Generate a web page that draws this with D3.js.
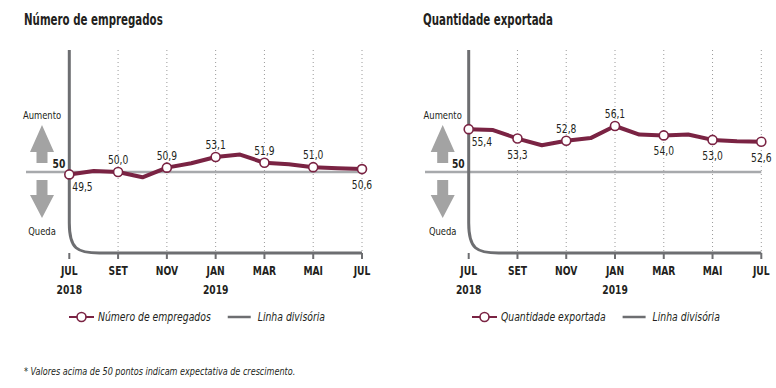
<!DOCTYPE html>
<html>
<head>
<meta charset="utf-8">
<script src="https://cdn.jsdelivr.net/npm/d3@7"></script>
<style>
  body { margin: 0; background: #fff; }
  svg { display: block; font-family: "DejaVu Sans Condensed", "DejaVu Sans", sans-serif; }
</style>
</head>
<body>
<svg id="chart" width="776" height="388"></svg>
<script>
// meses (jul/2018 - jul/2019)
const months = ["JUL", "AGO", "SET", "OUT", "NOV", "DEZ", "JAN", "FEV", "MAR", "ABR", "MAI", "JUN", "JUL"];
const tickLabels = ["JUL", "SET", "NOV", "JAN", "MAR", "MAI", "JUL"];
const yearLabels = { 0: "2018", 6: "2019" };

// dados
const empregados = [49.5, 50.2, 50.0, 48.9, 50.9, 51.8, 53.1, 53.6, 51.9, 51.6, 51.0, 50.8, 50.6];
const exportada = [55.4, 55.2, 53.3, 52.3, 52.8, 53.4, 56.1, 54.2, 54.0, 54.2, 53.0, 52.7, 52.6];
// quais pontos recebem rótulo e onde
const labelsEmpregados = { 0: "br", 2: "a", 4: "a", 6: "a", 8: "a", 10: "a", 12: "b" };
const labelsExportada = { 0: "br", 2: "b", 4: "a", 6: "a", 8: "b", 10: "b", 12: "b" };

const lineColor = "#7a2343";
const axisColor = "#6d6e71";
const divColor = "#a7a9ac";
const arrowColor = "#a3a3a3";
const ink = "#231f20";

const svg = d3.select("#chart");
const fmt = (v) => v.toFixed(1).replace(".", ",");
// fonte condensada "na mão"
const cond = (x, y, s) => `translate(${x},${y}) scale(${s},1)`;

function drawPanel(opt) {
    const g = svg.append("g");
    const x0 = opt.xRange[0], x1 = opt.xRange[1];
    const top = 50, base = 253;

    const x = d3.scaleLinear().domain([0, months.length - 1]).range(opt.xRange);
    const y = d3.scaleLinear().domain(opt.yDomain).range(opt.yRange);

    // título
    g.append("text")
        .attr("transform", cond(opt.titleX, 25, 0.76))
        .attr("font-size", 15).attr("font-weight", "bold").attr("fill", ink)
        .text(opt.title);

    // grade pontilhada
    const tickIdx = d3.range(0, months.length, 2);
    g.selectAll(".grid").data(tickIdx.slice(1)).enter().append("line")
        .attr("x1", (d) => x(d)).attr("x2", (d) => x(d))
        .attr("y1", top).attr("y2", base)
        .attr("stroke", "#9a9a9a").attr("stroke-width", 1).attr("stroke-dasharray", "1,3");

    // linha divisória (50)
    g.append("line")
        .attr("x1", opt.divStart).attr("x2", x1)
        .attr("y1", y(50)).attr("y2", y(50))
        .attr("stroke", divColor).attr("stroke-width", 2.5);
    g.append("text")
        .attr("transform", cond(x0 - 4, y(50) - 4, 0.85))
        .attr("text-anchor", "end").attr("font-size", 12).attr("font-weight", "bold")
        .attr("fill", ink).text("50");

    // eixo com curva
    g.append("path")
        .attr("d", `M${x0},${top} V${base - 30} C${x0},${base - 4} ${x0 + 8},${base} ${x0 + 30},${base} H${x1}`)
        .attr("fill", "none").attr("stroke", axisColor).attr("stroke-width", 3);
    g.selectAll(".tick").data(tickIdx).enter().append("line")
        .attr("x1", (d) => x(d)).attr("x2", (d) => x(d))
        .attr("y1", base).attr("y2", base + 6)
        .attr("stroke", axisColor).attr("stroke-width", 2);
    g.selectAll(".tlabel").data(tickIdx).enter().append("text")
        .attr("transform", (d) => cond(x(d), base + 22, 0.85))
        .attr("text-anchor", "middle").attr("font-size", 12).attr("font-weight", "bold").attr("fill", ink)
        .text((d, i) => tickLabels[i]);
    g.selectAll(".ylabel").data(Object.keys(yearLabels)).enter().append("text")
        .attr("transform", (d) => cond(x(+d), base + 41, 0.85))
        .attr("text-anchor", "middle").attr("font-size", 12).attr("font-weight", "bold").attr("fill", ink)
        .text((d) => yearLabels[d]);

    // setas
    const ax = opt.arrowX;
    g.append("path")
        .attr("d", `M${ax},125 L${ax + 12},152 L${ax + 5.5},152 L${ax + 5.5},163 L${ax - 5.5},163 L${ax - 5.5},152 L${ax - 12},152 Z`)
        .attr("fill", arrowColor);
    g.append("path")
        .attr("d", `M${ax},218 L${ax + 12},195 L${ax + 5.5},195 L${ax + 5.5},180 L${ax - 5.5},180 L${ax - 5.5},195 L${ax - 12},195 Z`)
        .attr("fill", arrowColor);
    g.append("text").attr("transform", cond(ax, 119, 0.85))
        .attr("text-anchor", "middle").attr("font-size", 11).attr("fill", ink).text("Aumento");
    g.append("text").attr("transform", cond(ax, 235, 0.85))
        .attr("text-anchor", "middle").attr("font-size", 11).attr("fill", ink).text("Queda");

    // série
    const line = d3.line().x((d, i) => x(i)).y((d) => y(d));
    g.append("path").datum(opt.values)
        .attr("d", line).attr("fill", "none")
        .attr("stroke", lineColor).attr("stroke-width", 4).attr("stroke-linejoin", "round");

    const labeled = Object.keys(opt.labels).map((k) => +k);
    g.selectAll(".dot").data(labeled).enter().append("circle")
        .attr("cx", (d) => x(d)).attr("cy", (d) => y(opt.values[d]))
        .attr("r", 4.5).attr("fill", "#fff").attr("stroke", lineColor).attr("stroke-width", 1.6);
    g.selectAll(".vlabel").data(labeled).enter().append("text")
        .attr("transform", (d) => {
            const p = opt.labels[d];
            const tx = p === "br" ? x(d) + 3 : x(d);
            const ty = y(opt.values[d]) + (p === "a" ? -8 : p === "b" ? 20 : 17);
            return cond(tx, ty, 0.85);
        })
        .attr("text-anchor", (d) => opt.labels[d] === "br" ? "start" : "middle")
        .attr("font-size", 12).attr("fill", ink)
        .text((d) => fmt(opt.values[d]));

    // legenda
    const lg = g.append("g").attr("transform", `translate(0,317)`);
    lg.append("line").attr("x1", opt.legX).attr("x2", opt.legX + 25)
        .attr("stroke", lineColor).attr("stroke-width", 2);
    lg.append("circle").attr("cx", opt.legX + 12.5).attr("r", 4.5)
        .attr("fill", "#fff").attr("stroke", lineColor).attr("stroke-width", 1.6);
    const t1 = lg.append("text").attr("transform", cond(opt.legX + 29, 4, 0.86))
        .attr("font-size", 12).attr("font-style", "italic").attr("fill", ink).text(opt.title);
    const w = t1.node().getComputedTextLength() * 0.86;
    const l2 = opt.legX + 29 + w + 17;
    lg.append("line").attr("x1", l2).attr("x2", l2 + 23)
        .attr("stroke", axisColor).attr("stroke-width", 2.5);
    lg.append("text").attr("transform", cond(l2 + 30, 4, 0.86))
        .attr("font-size", 12).attr("font-style", "italic").attr("fill", ink).text("Linha divisória");
}

drawPanel({
    title: "Número de empregados",
    titleX: 24,
    xRange: [69.3, 362],
    yDomain: [50, 53.1],
    yRange: [172, 157],
    values: empregados,
    labels: labelsEmpregados,
    divStart: 26,
    arrowX: 42,
    legX: 69
});

drawPanel({
    title: "Quantidade exportada",
    titleX: 423,
    xRange: [468.7, 761.3],
    yDomain: [50, 52.6, 56.1],
    yRange: [172, 141.7, 126],
    values: exportada,
    labels: labelsExportada,
    divStart: 425,
    arrowX: 442.7,
    legX: 472
});

// nota
svg.append("text")
    .attr("transform", cond(24, 375, 0.9))
    .attr("font-size", 10).attr("font-style", "italic").attr("fill", ink)
    .text("* Valores acima de 50 pontos indicam expectativa de crescimento.");
</script>
</body>
</html>
